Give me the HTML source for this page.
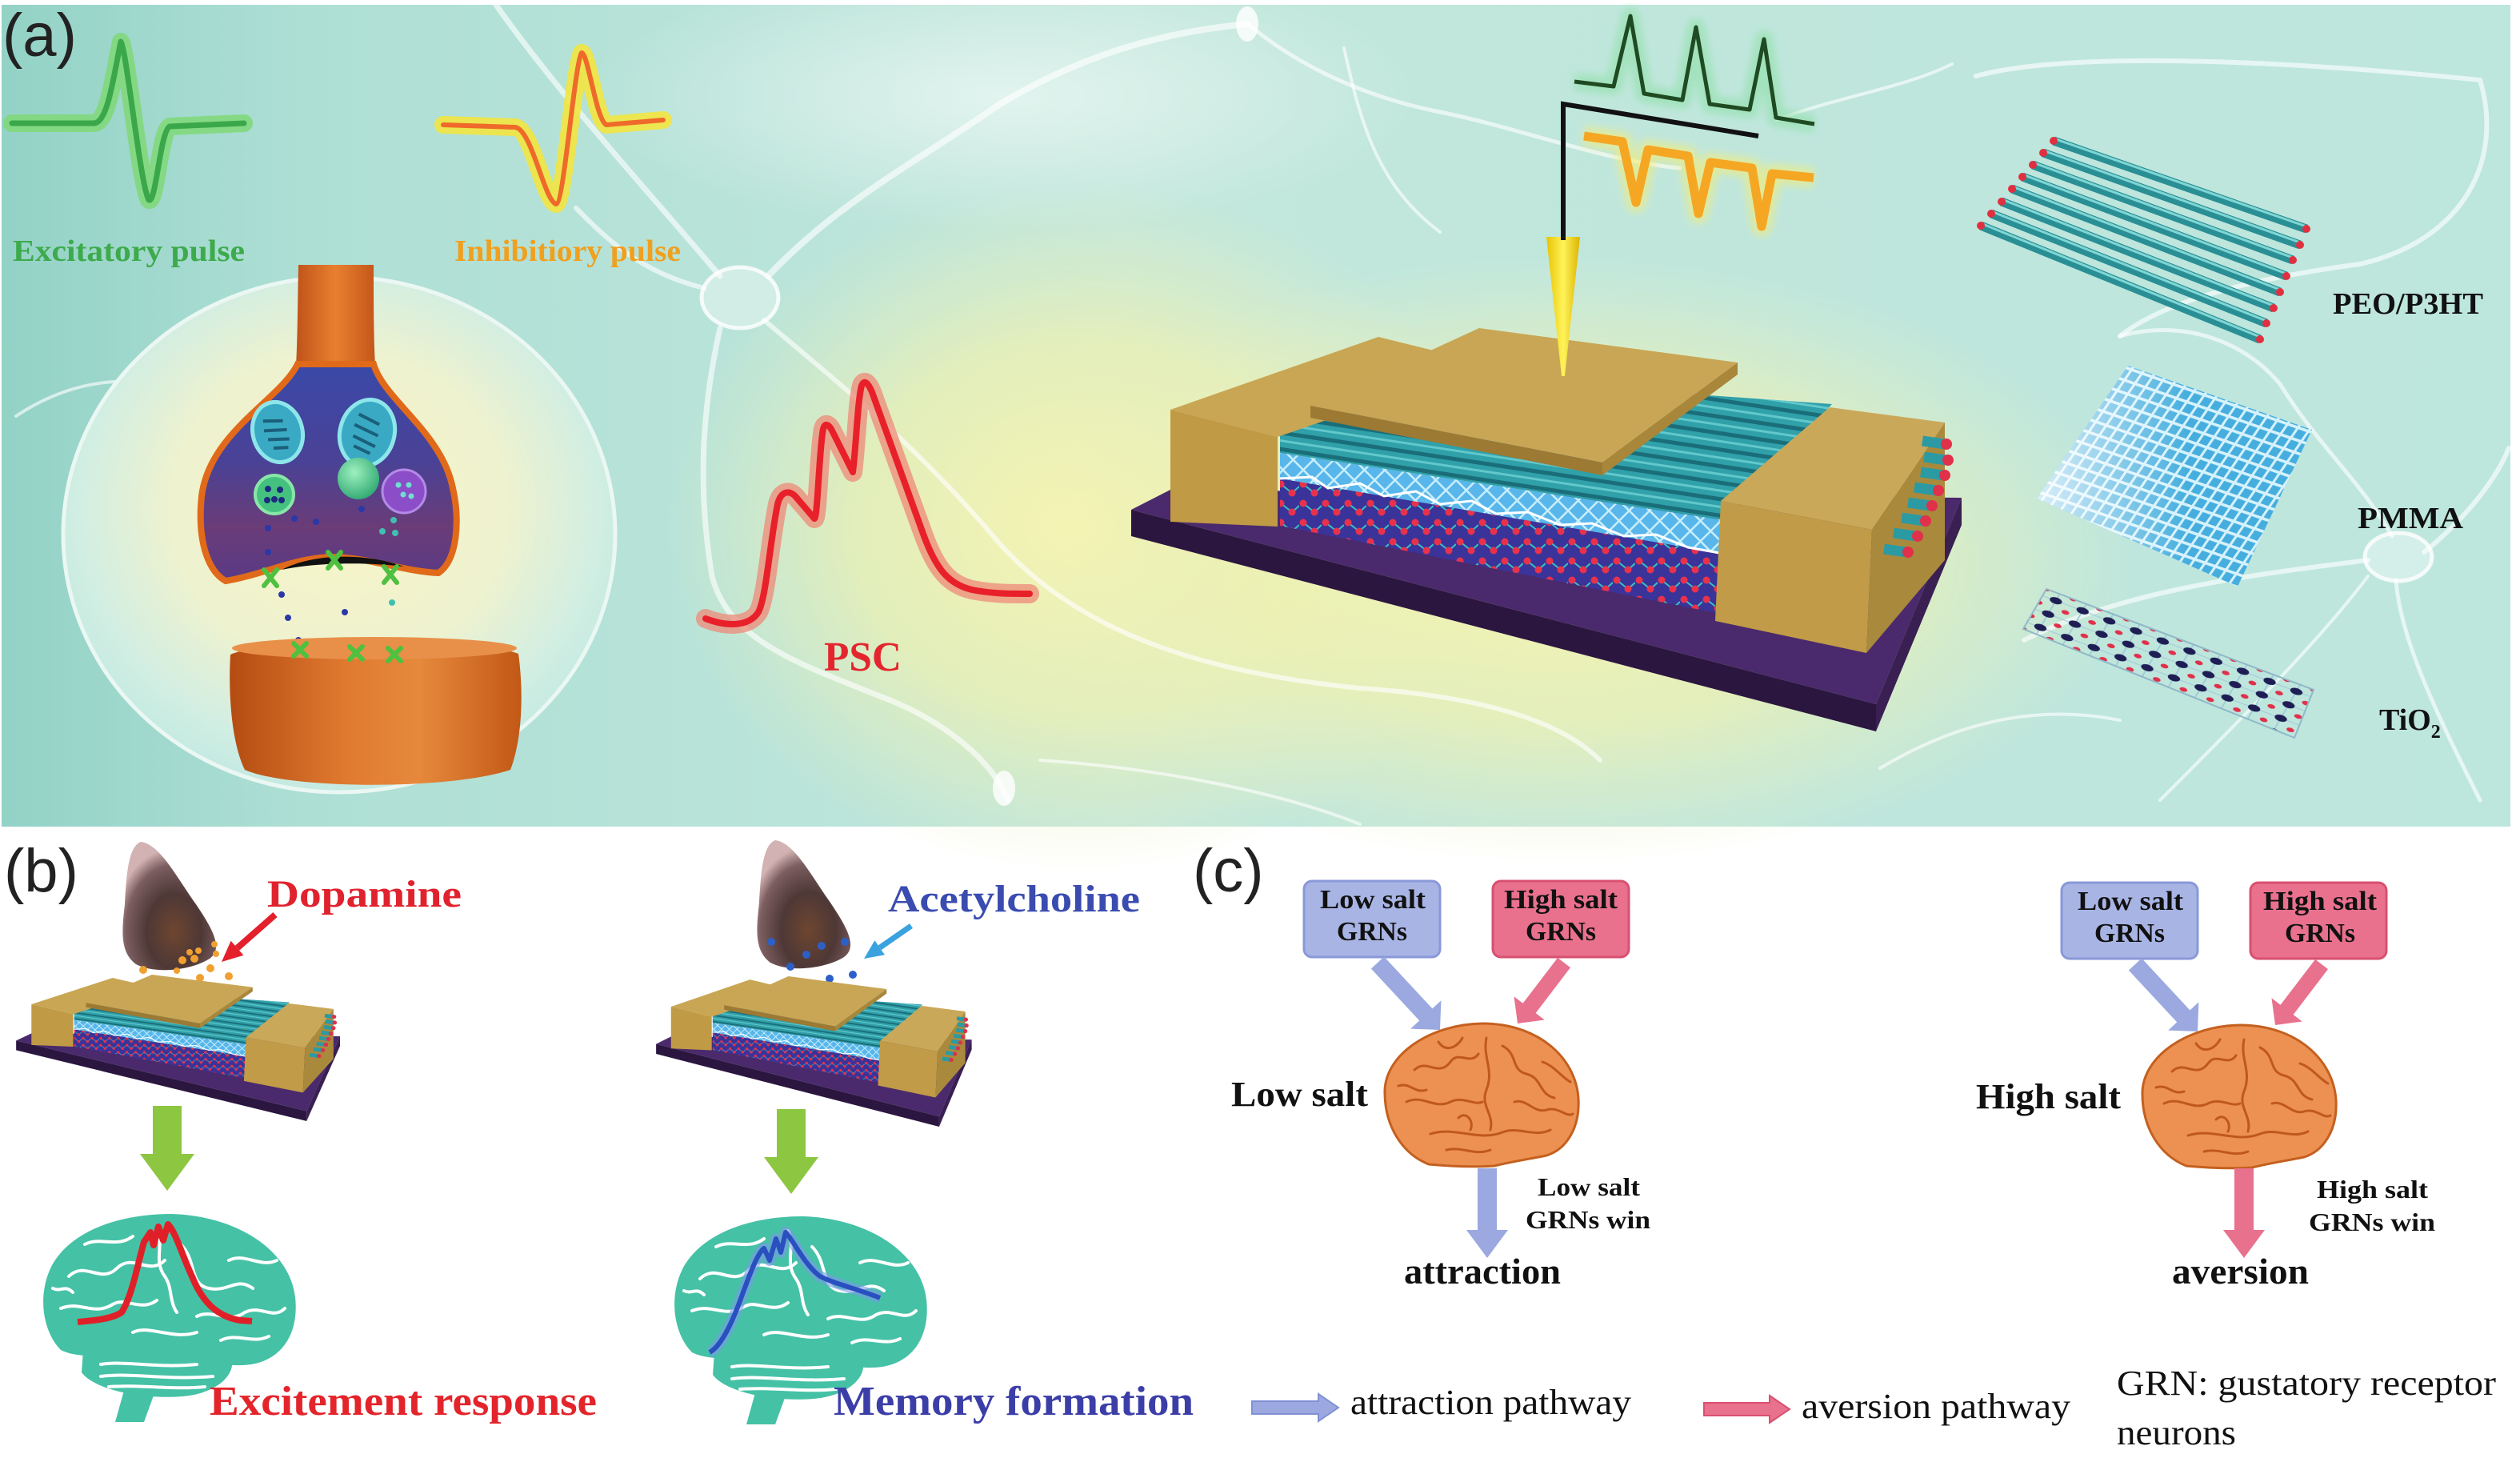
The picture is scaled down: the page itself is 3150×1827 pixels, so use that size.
<!DOCTYPE html>
<html><head><meta charset="utf-8"><title>Figure</title>
<style>
html,body{margin:0;padding:0;background:#ffffff;width:3150px;height:1827px;overflow:hidden;}
svg{display:block;}
text{font-family:"Liberation Serif","DejaVu Serif",serif;}
.b{font-weight:bold;}
.sans{font-family:"Liberation Sans","DejaVu Sans",sans-serif;font-weight:normal;}
</style></head><body>
<svg xmlns="http://www.w3.org/2000/svg" width="3150" height="1827" viewBox="0 0 3150 1827">
<defs>
<linearGradient id="bgL" x1="0" y1="0" x2="1" y2="0">
 <stop offset="0" stop-color="#93d2c6"/>
 <stop offset="0.12" stop-color="#aedfd5"/>
 <stop offset="0.45" stop-color="#c2e7dc"/>
 <stop offset="1" stop-color="#bde6dd"/>
</linearGradient>
<radialGradient id="yel">
 <stop offset="0" stop-color="#f7f4b0" stop-opacity="1"/>
 <stop offset="0.55" stop-color="#eef1b2" stop-opacity="0.75"/>
 <stop offset="1" stop-color="#e8f0c0" stop-opacity="0"/>
</radialGradient>
<radialGradient id="whi">
 <stop offset="0" stop-color="#ffffff" stop-opacity="0.55"/>
 <stop offset="1" stop-color="#ffffff" stop-opacity="0"/>
</radialGradient>
<radialGradient id="bub" cx="0.5" cy="0.45" r="0.55">
 <stop offset="0" stop-color="#f9f5c8"/>
 <stop offset="0.55" stop-color="#eef2cf"/>
 <stop offset="0.85" stop-color="#d2eee2"/>
 <stop offset="1" stop-color="#c4eae2"/>
</radialGradient>
<linearGradient id="neck" x1="0" y1="0" x2="1" y2="0">
 <stop offset="0" stop-color="#c0531a"/><stop offset="0.5" stop-color="#e8802f"/><stop offset="1" stop-color="#c4561a"/>
</linearGradient>
<linearGradient id="bulbg" x1="0" y1="0" x2="0" y2="1">
 <stop offset="0" stop-color="#3a49a8"/><stop offset="0.45" stop-color="#4a4296"/><stop offset="0.75" stop-color="#6a3c78"/><stop offset="1" stop-color="#5a3a86"/>
</linearGradient>
<linearGradient id="postg" x1="0" y1="0" x2="1" y2="0">
 <stop offset="0" stop-color="#b44c12"/><stop offset="0.4" stop-color="#e07a30"/><stop offset="0.65" stop-color="#e6893c"/><stop offset="1" stop-color="#c25816"/>
</linearGradient>
<radialGradient id="grs" cx="0.4" cy="0.35" r="0.7">
 <stop offset="0" stop-color="#9df0c0"/><stop offset="1" stop-color="#2fa870"/>
</radialGradient>
<linearGradient id="cn" x1="0" y1="0" x2="1" y2="0">
 <stop offset="0" stop-color="#e6c400"/><stop offset="0.5" stop-color="#fff35a"/><stop offset="1" stop-color="#dcb400"/>
</linearGradient>
<radialGradient id="cone" cx="0.55" cy="0.7" r="0.65">
 <stop offset="0" stop-color="#6e4630"/><stop offset="0.45" stop-color="#4e3836"/><stop offset="0.8" stop-color="#7c5e60"/><stop offset="1" stop-color="#d2b2b2"/>
</radialGradient>
<linearGradient id="pmw" x1="0" y1="0" x2="1" y2="0">
 <stop offset="0" stop-color="#ffffff" stop-opacity="0.8"/><stop offset="0.55" stop-color="#ffffff" stop-opacity="0"/>
</linearGradient>
<pattern id="mesh" width="18" height="18" patternUnits="userSpaceOnUse" patternTransform="rotate(45)">
 <rect width="18" height="18" fill="#58b6ea"/><path d="M0 1H18M1 0V18" stroke="#c8eefc" stroke-width="3"/>
</pattern>
<pattern id="tio" width="28" height="24" patternUnits="userSpaceOnUse">
 <rect width="28" height="24" fill="#3a3399"/><path d="M5 5L19 16M19 16L28 8" stroke="#39c2c0" stroke-width="2"/>
 <circle cx="5" cy="5" r="4.5" fill="#e8324c"/><circle cx="19" cy="16" r="4.5" fill="#e8324c"/>
</pattern>
<pattern id="pm" width="13" height="13" patternUnits="userSpaceOnUse" patternTransform="matrix(1,0.348,-0.687,1,0,0)">
 <rect width="13" height="13" fill="#46aede"/><path d="M0 1.5H13M1.5 0V13" stroke="#d6f2fc" stroke-width="3"/>
</pattern>
<pattern id="tip" width="1" height="1" patternUnits="userSpaceOnUse" patternTransform="matrix(33.4,12.6,-9.7,16.7,2558,736)">
 <path d="M0 0.5H1M0.5 0V1" stroke="#9fc8d8" stroke-width="0.05"/>
 <circle cx="0.5" cy="0.5" r="0.22" fill="#1e1e55"/>
 <circle cx="0" cy="0" r="0.14" fill="#e0304a"/><circle cx="1" cy="0" r="0.14" fill="#e0304a"/>
 <circle cx="0" cy="1" r="0.14" fill="#e0304a"/><circle cx="1" cy="1" r="0.14" fill="#e0304a"/>
</pattern>
<clipPath id="rodclip"><polygon points="1600,540 1770,468 2290,505 2155,650 1600,566"/></clipPath>
<filter id="gl" x="-20%" y="-20%" width="140%" height="140%"><feGaussianBlur stdDeviation="5"/></filter>

<g id="dev">
 <polygon points="1414,637 1463,612 2452,622 2345,880" fill="#4a2a6c"/>
 <polygon points="1414,637 2345,880 2345,914 1414,670" fill="#2b1640"/>
 <polygon points="2345,880 2452,622 2452,656 2345,914" fill="#3a1f52"/>
 <polygon points="1600,598 2155,692 2155,768 1600,657" fill="url(#tio)"/>
 <polygon points="1600,566 2155,650 2155,692 1600,598" fill="url(#mesh)"/>
 <polyline points="1600,598 1640,596 1660,610 1700,604 1730,620 1770,614 1800,630 1840,626 1870,642 1910,640 1950,656 1990,654 2030,670 2070,668 2110,684 2155,692" fill="none" stroke="#ffffff" stroke-width="3"/>
 <polygon points="1600,540 1770,468 2290,505 2155,650 1600,566" fill="#30a0a9"/>
 <g clip-path="url(#rodclip)" fill="none">
  <g stroke="#1a6e79" stroke-width="5">
   <path d="M1590,559.7L2300,666.9M1590,539.1L2300,646.3M1590,518.6L2300,625.8M1590,498L2300,605.2M1590,477.4L2300,584.6M1590,456.9L2300,564.1M1590,436.3L2300,543.5M1590,415.7L2300,522.9M1590,395.2L2300,502.4"/>
  </g>
  <g stroke="#62c8cc" stroke-width="3">
   <path d="M1590,549L2300,656M1590,528.5L2300,635.7M1590,508L2300,615.2M1590,487.4L2300,594.6M1590,466.8L2300,574M1590,446.3L2300,553.5M1590,425.7L2300,532.9M1590,405L2300,512.3"/>
  </g>
 </g>
 <polygon points="1463,512 1723,421 1860,455 1597,546" fill="#c8a653"/>
 <polygon points="1463,512 1597,546 1597,658 1463,652" fill="#c09a45"/>
 <polygon points="1638,507 1849,410 2172,453 2003,578" fill="#c9a655"/>
 <polygon points="1638,507 2003,578 2003,594 1638,522" fill="#9c7a34"/>
 <polygon points="2003,578 2172,453 2172,468 2003,594" fill="#a8863a"/>
 <polygon points="2151,626 2287,509 2431,528 2340,662" fill="#caa859"/>
 <polygon points="2151,626 2340,662 2333,816 2144,776" fill="#c19b47"/>
 <polygon points="2340,662 2431,528 2431,700 2333,816" fill="#a98a3c"/>
 <g stroke="#2c9aa2" stroke-width="13" stroke-linecap="butt">
  <path d="M2403,551L2431,555M2405,571L2433,575M2401,590L2429,594M2393,609L2421,613M2385,628L2413,632M2377,647L2405,651M2367,666L2395,670M2355,686L2383,690"/>
 </g>
 <g fill="#e0304a">
  <circle cx="2433" cy="555" r="7"/><circle cx="2435" cy="575" r="7"/><circle cx="2431" cy="594" r="7"/><circle cx="2423" cy="613" r="7"/>
  <circle cx="2415" cy="632" r="7"/><circle cx="2407" cy="651" r="7"/><circle cx="2397" cy="670" r="7"/><circle cx="2385" cy="690" r="7"/>
 </g>
</g>

<g id="tb">
 <path d="M30,172 C8,150 0,105 18,68 C42,22 105,2 168,2 C248,4 316,46 323,106 C328,152 306,184 268,190 C238,194 212,186 186,180 C150,174 110,182 76,180 C55,179 42,178 30,172 Z" fill="#45c1a6"/>
 <path d="M58,172 C80,160 200,160 242,178 C252,200 228,226 182,230 C132,234 72,222 56,200 Z" fill="#45c1a6"/>
 <path d="M112,212 L150,218 L134,262 L98,262 Z" fill="#45c1a6"/>
 <g fill="none" stroke="#ffffff" stroke-width="4" stroke-linecap="round">
  <path d="M40,80 C60,60 80,90 100,70 C120,50 140,80 160,60"/>
  <path d="M30,120 C55,110 70,130 95,115 C110,105 130,125 150,110"/>
  <path d="M180,40 C200,60 190,90 215,95 C240,100 250,80 270,95"/>
  <path d="M200,130 C220,120 240,140 260,125 C280,115 295,135 310,120"/>
  <path d="M120,150 C140,140 170,160 200,150"/>
  <path d="M60,40 C80,30 100,45 120,30"/>
  <path d="M240,60 C260,50 280,70 300,60"/>
  <path d="M150,20 C160,40 145,60 160,80 C170,95 165,110 175,125"/>
  <path d="M230,160 C250,150 270,165 290,155"/>
  <path d="M80,190 C110,185 150,195 200,190"/>
  <path d="M80,205 C120,200 160,210 220,205"/>
  <path d="M90,218 C130,215 170,222 210,218"/>
  <path d="M20,95 C30,100 35,90 45,100"/>
 </g>
</g>

<g id="ob">
 <path d="M3,85 C5,40 60,3 125,2 C195,2 242,45 245,96 C247,135 228,160 205,167 C180,172 160,175 140,180 C110,182 80,180 58,178 C25,165 2,130 3,85 Z" fill="#ec9152" stroke="#c4601f" stroke-width="3"/>
 <g fill="none" stroke="#c0581e" stroke-width="3" stroke-linecap="round">
  <path d="M40,60 C55,45 70,70 85,50 C95,35 110,55 120,40"/>
  <path d="M130,20 C125,45 140,60 130,85 C122,105 140,115 135,135"/>
  <path d="M150,30 C170,40 160,60 180,65 C200,70 195,90 215,95"/>
  <path d="M30,100 C50,90 65,110 85,100 C100,92 115,105 125,100"/>
  <path d="M60,140 C90,130 120,150 150,138 C170,130 190,145 210,135"/>
  <path d="M165,100 C180,95 190,115 205,110 C220,105 230,120 238,115"/>
  <path d="M20,80 C35,75 40,90 55,85"/>
  <path d="M80,160 C100,155 115,168 135,160"/>
  <path d="M200,50 C215,55 225,70 235,75"/>
  <path d="M95,120 C105,110 115,125 110,135"/>
  <path d="M70,25 C80,40 95,30 100,20"/>
 </g>
</g>

<g id="cg">
 <rect x="1630" y="1101" width="170" height="95" rx="10" fill="#a8b4e4" stroke="#8a98d8" stroke-width="3"/>
 <rect x="1866" y="1101" width="170" height="95" rx="10" fill="#e9718e" stroke="#d9506f" stroke-width="3"/>
 <polygon points="1713.9,1210.5 1774.2,1275.4 1763.2,1285.6 1800,1287 1801.4,1250.2 1790.4,1260.4 1730.1,1195.5" fill="#9ba9e0"/>
 <polygon points="1947.1,1196.9 1903.6,1253.8 1892.5,1245.3 1897,1279 1930.7,1274.5 1919.6,1266 1963,1209.1" fill="#e8718d"/>
 <use href="#ob" transform="translate(1728,1277)"/>
</g>
<g id="cneuron">
 <path d="M176,1052 C160,1058 158,1095 156,1130 C152,1165 150,1190 170,1205 C195,1218 240,1212 262,1198 C280,1185 265,1160 245,1130 C220,1095 200,1055 176,1052 Z" fill="url(#cone)"/>
</g>
</defs>

<!-- ========== PANEL A ========== -->
<rect x="2" y="6" width="3136" height="1027" fill="url(#bgL)"/>
<ellipse cx="1350" cy="660" rx="520" ry="430" fill="url(#yel)"/>
<ellipse cx="1950" cy="700" rx="720" ry="380" fill="url(#yel)"/>
<ellipse cx="1250" cy="120" rx="520" ry="170" fill="url(#whi)"/>

<g fill="none" stroke="#ffffff" stroke-opacity="0.62" stroke-linecap="round">
 <path d="M620,6 C700,120 820,250 900,345" stroke-width="7"/>
 <path d="M960,345 C1050,250 1150,200 1250,130 C1350,70 1450,40 1560,30" stroke-width="8"/>
 <path d="M955,400 C1050,480 1150,560 1250,680 C1350,790 1500,840 1700,860 C1850,870 1950,900 2000,950" stroke-width="6"/>
 <path d="M900,410 C880,500 870,600 890,720 C910,800 1000,830 1100,870 C1180,900 1240,950 1260,1000" stroke-width="7"/>
 <path d="M880,360 C800,340 760,300 720,260" stroke-width="6"/>
 <path d="M1560,30 C1620,80 1700,120 1800,140 C1900,160 2000,200 2100,210" stroke-width="5"/>
 <path d="M1680,60 C1700,150 1720,230 1800,290" stroke-width="4"/>
 <path d="M2220,150 C2300,120 2380,110 2440,80" stroke-width="4"/>
 <path d="M2470,95 C2600,60 2900,80 3100,100 C3130,200 3080,300 2950,330 C2800,350 2700,380 2650,420" stroke-width="6"/>
 <path d="M2960,700 C2800,720 2650,740 2530,800" stroke-width="6"/>
 <path d="M3030,690 C3080,650 3120,600 3136,560" stroke-width="6"/>
 <path d="M2990,670 C2950,600 2900,560 2850,480 C2800,420 2720,400 2650,420" stroke-width="5"/>
 <path d="M2995,725 C3000,800 3050,900 3100,1000" stroke-width="5"/>
 <path d="M2960,720 C2900,800 2800,900 2700,1000" stroke-width="4"/>
 <path d="M1300,950 C1450,960 1600,990 1700,1030" stroke-width="4"/>
 <path d="M2350,960 C2450,900 2550,880 2650,900" stroke-width="4"/>
 <path d="M20,520 C80,480 140,470 200,480" stroke-width="4"/>
</g>
<ellipse cx="925" cy="372" rx="48" ry="38" fill="#ffffff" fill-opacity="0.35" stroke="#ffffff" stroke-width="5" stroke-opacity="0.8"/>
<ellipse cx="2998" cy="696" rx="42" ry="30" fill="#ffffff" fill-opacity="0.35" stroke="#ffffff" stroke-width="5" stroke-opacity="0.8"/>
<ellipse cx="1559" cy="30" rx="14" ry="22" fill="#ffffff" fill-opacity="0.8"/>
<ellipse cx="1255" cy="985" rx="14" ry="22" fill="#ffffff" fill-opacity="0.8"/>

<!-- bubble + synapse -->
<ellipse cx="424" cy="668" rx="345" ry="322" fill="url(#bub)" stroke="#eaf7f2" stroke-width="5"/>
<path d="M373,331 C372,380 372,420 370,458 L469,458 C467,420 467,380 467,331 Z" fill="url(#neck)"/>
<path d="M372,455 C350,500 262,540 252,620 C246,680 262,715 282,726 C330,718 370,696 418,696 C466,698 505,714 548,716 C572,700 575,650 566,610 C552,540 480,500 467,455 Z" fill="url(#bulbg)" stroke="#e06a1a" stroke-width="8"/>
<path d="M352,712 C390,692 455,690 505,708 C455,702 395,703 352,712 Z" fill="#111111"/>
<g transform="translate(347,540) rotate(-15)"><ellipse rx="31" ry="38" fill="#3aaac4" stroke="#8ee6ea" stroke-width="5"/><path d="M-14,-18 L10,-12 M-16,-6 L12,0 M-14,6 L12,12 M-10,18 L8,22" stroke="#1b5f7a" stroke-width="4"/></g>
<g transform="translate(459,541) rotate(15)"><ellipse rx="34" ry="42" fill="#3aaac4" stroke="#8ee6ea" stroke-width="5"/><path d="M-16,-20 L12,-14 M-18,-6 L14,0 M-16,8 L14,14 M-12,20 L10,24" stroke="#1b5f7a" stroke-width="4"/></g>
<circle cx="343" cy="618" r="24" fill="#44c17e" stroke="#88e6a8" stroke-width="4"/>
<g fill="#1e2a80"><circle cx="335" cy="611" r="4"/><circle cx="350" cy="612" r="4"/><circle cx="343" cy="624" r="4"/><circle cx="334" cy="625" r="4"/><circle cx="352" cy="625" r="4"/></g>
<circle cx="448" cy="598" r="26" fill="url(#grs)"/>
<circle cx="505" cy="614" r="27" fill="#8b4ec8" stroke="#b48ae8" stroke-width="3"/>
<g fill="#6fe0d0"><circle cx="498" cy="606" r="3.5"/><circle cx="511" cy="606" r="3.5"/><circle cx="504" cy="618" r="3.5"/><circle cx="514" cy="620" r="3.5"/></g>
<g fill="#2a38a8"><circle cx="335" cy="660" r="4"/><circle cx="368" cy="648" r="4"/><circle cx="395" cy="652" r="4"/><circle cx="335" cy="690" r="4"/><circle cx="452" cy="636" r="4"/><circle cx="352" cy="743" r="4"/><circle cx="360" cy="772" r="4"/><circle cx="431" cy="765" r="4"/><circle cx="373" cy="800" r="4"/></g>
<g fill="#40c0b0"><circle cx="492" cy="650" r="4"/><circle cx="494" cy="666" r="4"/><circle cx="478" cy="664" r="4"/><circle cx="490" cy="753" r="4"/><circle cx="446" cy="808" r="4"/></g>
<path d="M288,818 C285,870 290,930 306,962 C360,986 560,988 638,962 C654,920 654,860 648,817 C600,798 340,795 288,818 Z" fill="url(#postg)"/>
<ellipse cx="468" cy="810" rx="178" ry="14" fill="#e8904a"/>
<g fill="none" stroke="#4fc040" stroke-width="6" stroke-linecap="round">
 <path d="M330,712 L346,732 M346,712 L330,732"/><path d="M410,690 L426,710 M426,690 L410,710"/><path d="M480,708 L496,728 M496,708 L480,728"/>
 <path d="M367,804 L383,820 M383,804 L367,820"/><path d="M437,808 L453,824 M453,808 L437,824"/><path d="M485,810 L501,826 M501,810 L485,826"/>
</g>

<!-- pulses -->
<path d="M15,154 L118,154 C135,152 142,95 151,52 C158,60 175,230 186,250 C195,255 200,165 212,158 L305,154" fill="none" stroke="#7fd877" stroke-width="22" stroke-linejoin="round" stroke-linecap="round" opacity="0.85"/>
<path d="M15,154 L118,154 C135,152 142,95 151,52 C158,60 175,230 186,250 C195,255 200,165 212,158 L305,154" fill="none" stroke="#3aa84a" stroke-width="7" stroke-linejoin="round" stroke-linecap="round"/>
<path d="M554,156 L644,159 C665,162 680,250 695,255 C705,255 718,80 727,66 C735,66 745,150 758,156 L829,150" fill="none" stroke="#f2e640" stroke-width="22" stroke-linejoin="round" stroke-linecap="round" opacity="0.9"/>
<path d="M554,156 L644,159 C665,162 680,250 695,255 C705,255 718,80 727,66 C735,66 745,150 758,156 L829,150" fill="none" stroke="#ef6a2a" stroke-width="6" stroke-linejoin="round" stroke-linecap="round"/>
<text x="16" y="326" class="b" font-size="38" fill="#3daa4b" textLength="290" lengthAdjust="spacingAndGlyphs">Excitatory pulse</text>
<text x="568" y="326" class="b" font-size="38" fill="#f0a01e" textLength="283" lengthAdjust="spacingAndGlyphs">Inhibitiory pulse</text>

<!-- PSC -->
<path d="M882,773 C905,782 935,785 948,765 C958,745 962,680 972,630 C976,614 986,612 994,620 L1018,648 C1022,648 1024,560 1029,536 C1031,528 1036,530 1040,538 L1066,590 C1070,560 1072,500 1077,482 C1080,474 1085,478 1090,490 C1110,545 1135,615 1155,670 C1170,710 1185,730 1215,737 C1240,742 1260,742 1287,742" fill="none" stroke="#ee8a78" stroke-width="24" stroke-linejoin="round" stroke-linecap="round" opacity="0.75"/>
<path d="M882,773 C905,782 935,785 948,765 C958,745 962,680 972,630 C976,614 986,612 994,620 L1018,648 C1022,648 1024,560 1029,536 C1031,528 1036,530 1040,538 L1066,590 C1070,560 1072,500 1077,482 C1080,474 1085,478 1090,490 C1110,545 1135,615 1155,670 C1170,710 1185,730 1215,737 C1240,742 1260,742 1287,742" fill="none" stroke="#e8202a" stroke-width="8" stroke-linejoin="round" stroke-linecap="round"/>
<text x="1030" y="838" class="b" font-size="52" fill="#e3262e" textLength="97" lengthAdjust="spacingAndGlyphs">PSC</text>

<!-- device panel a -->
<use href="#dev"/>
<polygon points="1933,296 1975,296 1956,470 1952,470" fill="url(#cn)"/>
<path d="M1954,300 L1954,130 L2198,170" fill="none" stroke="#111111" stroke-width="6"/>
<path d="M1968,102 L2017,108 L2038,20 L2055,117 L2103,125 L2120,34 L2137,130 L2187,137 L2205,49 L2220,147 L2268,155" fill="none" stroke="#8fe0a8" stroke-width="22" stroke-linejoin="round" opacity="0.6" filter="url(#gl)"/>
<path d="M1968,102 L2017,108 L2038,20 L2055,117 L2103,125 L2120,34 L2137,130 L2187,137 L2205,49 L2220,147 L2268,155" fill="none" stroke="#1f4a22" stroke-width="5" stroke-linejoin="round"/>
<path d="M1980,170 L2028,177 L2045,253 L2060,187 L2110,195 L2123,267 L2138,203 L2190,210 L2202,283 L2215,217 L2267,222" fill="none" stroke="#f6ec70" stroke-width="24" stroke-linejoin="round" opacity="0.6" filter="url(#gl)"/>
<path d="M1980,170 L2028,177 L2045,253 L2060,187 L2110,195 L2123,267 L2138,203 L2190,210 L2202,283 L2215,217 L2267,222" fill="none" stroke="#f5a623" stroke-width="11" stroke-linejoin="round"/>

<!-- right layers -->
<g stroke-linecap="butt">
 <g stroke="#2a8f95" stroke-width="11">
  <path d="M2567,176L2883,286M2554,191L2875,306M2541,206L2866,325M2528,221L2858,345M2515,236L2850,365M2502,252L2842,385M2489,267L2833,404M2476,282L2825,424"/>
 </g>
 <g stroke="#7fd6d4" stroke-width="3">
  <path d="M2567,173L2883,283M2554,188L2875,303M2541,203L2866,322M2528,218L2858,342M2515,233L2850,362M2502,249L2842,382M2489,264L2833,401M2476,279L2825,421"/>
 </g>
 <g fill="#e03040">
  <circle cx="2567" cy="176" r="5"/><circle cx="2554" cy="191" r="5"/><circle cx="2541" cy="206" r="5"/><circle cx="2528" cy="221" r="5"/><circle cx="2515" cy="236" r="5"/><circle cx="2502" cy="252" r="5"/><circle cx="2489" cy="267" r="5"/><circle cx="2476" cy="282" r="5"/>
  <circle cx="2883" cy="286" r="5"/><circle cx="2875" cy="306" r="5"/><circle cx="2866" cy="325" r="5"/><circle cx="2858" cy="345" r="5"/><circle cx="2850" cy="365" r="5"/><circle cx="2842" cy="385" r="5"/><circle cx="2833" cy="404" r="5"/><circle cx="2825" cy="424" r="5"/>
 </g>
</g>
<polygon points="2660,457 2890,537 2797,733 2546,623" fill="url(#pm)"/>
<polygon points="2660,457 2890,537 2797,733 2546,623" fill="url(#pmw)"/>
<polygon points="2558,736 2892,862 2868,922 2529,786" fill="url(#tip)" stroke="#8fb8c8" stroke-width="2"/>
<text x="2916" y="392" class="b" font-size="38" fill="#111" textLength="188" lengthAdjust="spacingAndGlyphs">PEO/P3HT</text>
<text x="2947" y="660" class="b" font-size="38" fill="#111" textLength="132" lengthAdjust="spacingAndGlyphs">PMMA</text>
<text x="2974" y="912" class="b" font-size="38" fill="#111">TiO<tspan font-size="24" dy="10">2</tspan></text>

<text x="3" y="70" class="sans" font-size="76" fill="#222">(a)</text>

<!-- ========== PANEL B ========== -->
<text x="5" y="1114" class="sans" font-size="76" fill="#222">(b)</text>
<use href="#cneuron"/>
<g fill="#f0a030">
 <circle cx="179" cy="1212" r="5"/><circle cx="228" cy="1200" r="5"/><circle cx="243" cy="1198" r="5"/><circle cx="237" cy="1190" r="4"/><circle cx="248" cy="1188" r="4"/><circle cx="263" cy="1210" r="5"/><circle cx="268" cy="1180" r="4"/><circle cx="221" cy="1213" r="4"/><circle cx="250" cy="1222" r="5"/><circle cx="286" cy="1220" r="5"/><circle cx="270" cy="1192" r="4"/>
</g>
<path d="M344,1143 L296.5,1184.8" stroke="#e3202b" stroke-width="8"/>
<polygon points="288.6,1175.8 277,1202 304.4,1193.8" fill="#e3202b"/>
<text x="334" y="1133" class="b" font-size="48" fill="#e0222e" textLength="243" lengthAdjust="spacingAndGlyphs">Dopamine</text>
<use href="#dev" transform="translate(19,1218) scale(0.39,0.363) translate(-1411,-410)"/>
<polygon points="191,1382 227,1382 227,1442 243,1442 209,1488 175,1442 191,1442" fill="#8dc640"/>
<use href="#tb" transform="translate(46,1515)"/>
<path d="M97,1652 C120,1650 140,1648 152,1640 C165,1620 172,1580 180,1552 L188,1540 L192,1556 L198,1533 L204,1550 L210,1530 C220,1540 228,1570 240,1595 C252,1625 270,1645 300,1650 L315,1651" fill="none" stroke="#e02028" stroke-width="8" stroke-linejoin="round"/>
<text x="262" y="1768" class="b" font-size="52" fill="#e3242b" textLength="484" lengthAdjust="spacingAndGlyphs">Excitement response</text>

<use href="#cneuron" transform="translate(793,-2)"/>
<g fill="#2d5fc8">
 <circle cx="964" cy="1177" r="5"/><circle cx="988" cy="1208" r="5"/><circle cx="1008" cy="1193" r="5"/><circle cx="1027" cy="1182" r="5"/><circle cx="1037" cy="1223" r="5"/><circle cx="1066" cy="1218" r="5"/><circle cx="1013" cy="1233" r="5"/><circle cx="974" cy="1254" r="4"/><circle cx="1056" cy="1177" r="5"/>
</g>
<path d="M1139,1157 L1099.7,1184.3" stroke="#3aa3df" stroke-width="7"/>
<polygon points="1093.4,1175.3 1080,1198 1106,1193.3" fill="#3aa3df"/>
<text x="1110" y="1139" class="b" font-size="48" fill="#3a4cb0" textLength="315" lengthAdjust="spacingAndGlyphs">Acetylcholine</text>
<use href="#dev" transform="translate(819,1220) scale(0.38,0.373) translate(-1411,-410)"/>
<polygon points="971,1386 1007,1386 1007,1446 1023,1446 989,1492 955,1446 971,1446" fill="#8dc640"/>
<use href="#tb" transform="translate(835,1518)"/>
<path d="M887,1690 C905,1680 920,1640 930,1612 C940,1585 948,1565 955,1560 L962,1575 L970,1548 L976,1565 L982,1540 C992,1550 1005,1580 1025,1595 C1045,1605 1070,1610 1100,1622" fill="none" stroke="#7c9ae8" stroke-width="14" stroke-linejoin="round" opacity="0.6"/>
<path d="M887,1690 C905,1680 920,1640 930,1612 C940,1585 948,1565 955,1560 L962,1575 L970,1548 L976,1565 L982,1540 C992,1550 1005,1580 1025,1595 C1045,1605 1070,1610 1100,1622" fill="none" stroke="#2a4fc0" stroke-width="6" stroke-linejoin="round"/>
<text x="1042" y="1768" class="b" font-size="52" fill="#3c3ea8" textLength="450" lengthAdjust="spacingAndGlyphs">Memory formation</text>

<!-- ========== PANEL C ========== -->
<text x="1491" y="1114" class="sans" font-size="76" fill="#222">(c)</text>
<use href="#cg"/>
<use href="#cg" transform="translate(947,2)"/>
<g class="b" font-size="34" fill="#111">
 <text x="1650" y="1135" class="b" textLength="132" lengthAdjust="spacingAndGlyphs">Low salt</text>
 <text x="1671" y="1175" class="b" textLength="88" lengthAdjust="spacingAndGlyphs">GRNs</text>
 <text x="1880" y="1135" class="b" textLength="142" lengthAdjust="spacingAndGlyphs">High salt</text>
 <text x="1907" y="1175" class="b" textLength="88" lengthAdjust="spacingAndGlyphs">GRNs</text>
 <text x="2597" y="1137" class="b" textLength="132" lengthAdjust="spacingAndGlyphs">Low salt</text>
 <text x="2618" y="1177" class="b" textLength="88" lengthAdjust="spacingAndGlyphs">GRNs</text>
 <text x="2829" y="1137" class="b" textLength="142" lengthAdjust="spacingAndGlyphs">High salt</text>
 <text x="2856" y="1177" class="b" textLength="88" lengthAdjust="spacingAndGlyphs">GRNs</text>
</g>
<polygon points="1847,1460 1871,1460 1871,1537 1885,1537 1859,1572 1833,1537 1847,1537" fill="#9ba9e0"/>
<polygon points="2793,1460 2817,1460 2817,1537 2831,1537 2805,1572 2779,1537 2793,1537" fill="#e8718d"/>
<text x="1539" y="1382" class="b" font-size="44" fill="#111" textLength="171" lengthAdjust="spacingAndGlyphs">Low salt</text>
<text x="2470" y="1385" class="b" font-size="44" fill="#111" textLength="181" lengthAdjust="spacingAndGlyphs">High salt</text>
<text x="1922" y="1494" class="b" font-size="32" fill="#111" textLength="128" lengthAdjust="spacingAndGlyphs">Low salt</text>
<text x="1907" y="1535" class="b" font-size="32" fill="#111" textLength="156" lengthAdjust="spacingAndGlyphs">GRNs win</text>
<text x="2896" y="1497" class="b" font-size="32" fill="#111" textLength="139" lengthAdjust="spacingAndGlyphs">High salt</text>
<text x="2886" y="1538" class="b" font-size="32" fill="#111" textLength="158" lengthAdjust="spacingAndGlyphs">GRNs win</text>
<text x="1755" y="1604" class="b" font-size="46" fill="#111" textLength="196" lengthAdjust="spacingAndGlyphs">attraction</text>
<text x="2715" y="1604" class="b" font-size="46" fill="#111" textLength="171" lengthAdjust="spacingAndGlyphs">aversion</text>

<!-- legend -->
<polygon points="1565,1751 1648,1751 1648,1742 1673,1759 1648,1776 1648,1767 1565,1767" fill="#9ba9e0" stroke="#8190d4" stroke-width="2"/>
<text x="1688" y="1767" font-size="44" fill="#111" textLength="351" lengthAdjust="spacingAndGlyphs">attraction pathway</text>
<polygon points="2130,1753 2212,1753 2212,1744 2237,1761 2212,1778 2212,1769 2130,1769" fill="#e8718d" stroke="#d9506f" stroke-width="2"/>
<text x="2252" y="1772" font-size="44" fill="#111" textLength="336" lengthAdjust="spacingAndGlyphs">aversion pathway</text>
<text x="2646" y="1743" font-size="44" fill="#111" textLength="474" lengthAdjust="spacingAndGlyphs">GRN: gustatory receptor</text>
<text x="2646" y="1805" font-size="44" fill="#111" textLength="149" lengthAdjust="spacingAndGlyphs">neurons</text>
</svg>
</body></html>
